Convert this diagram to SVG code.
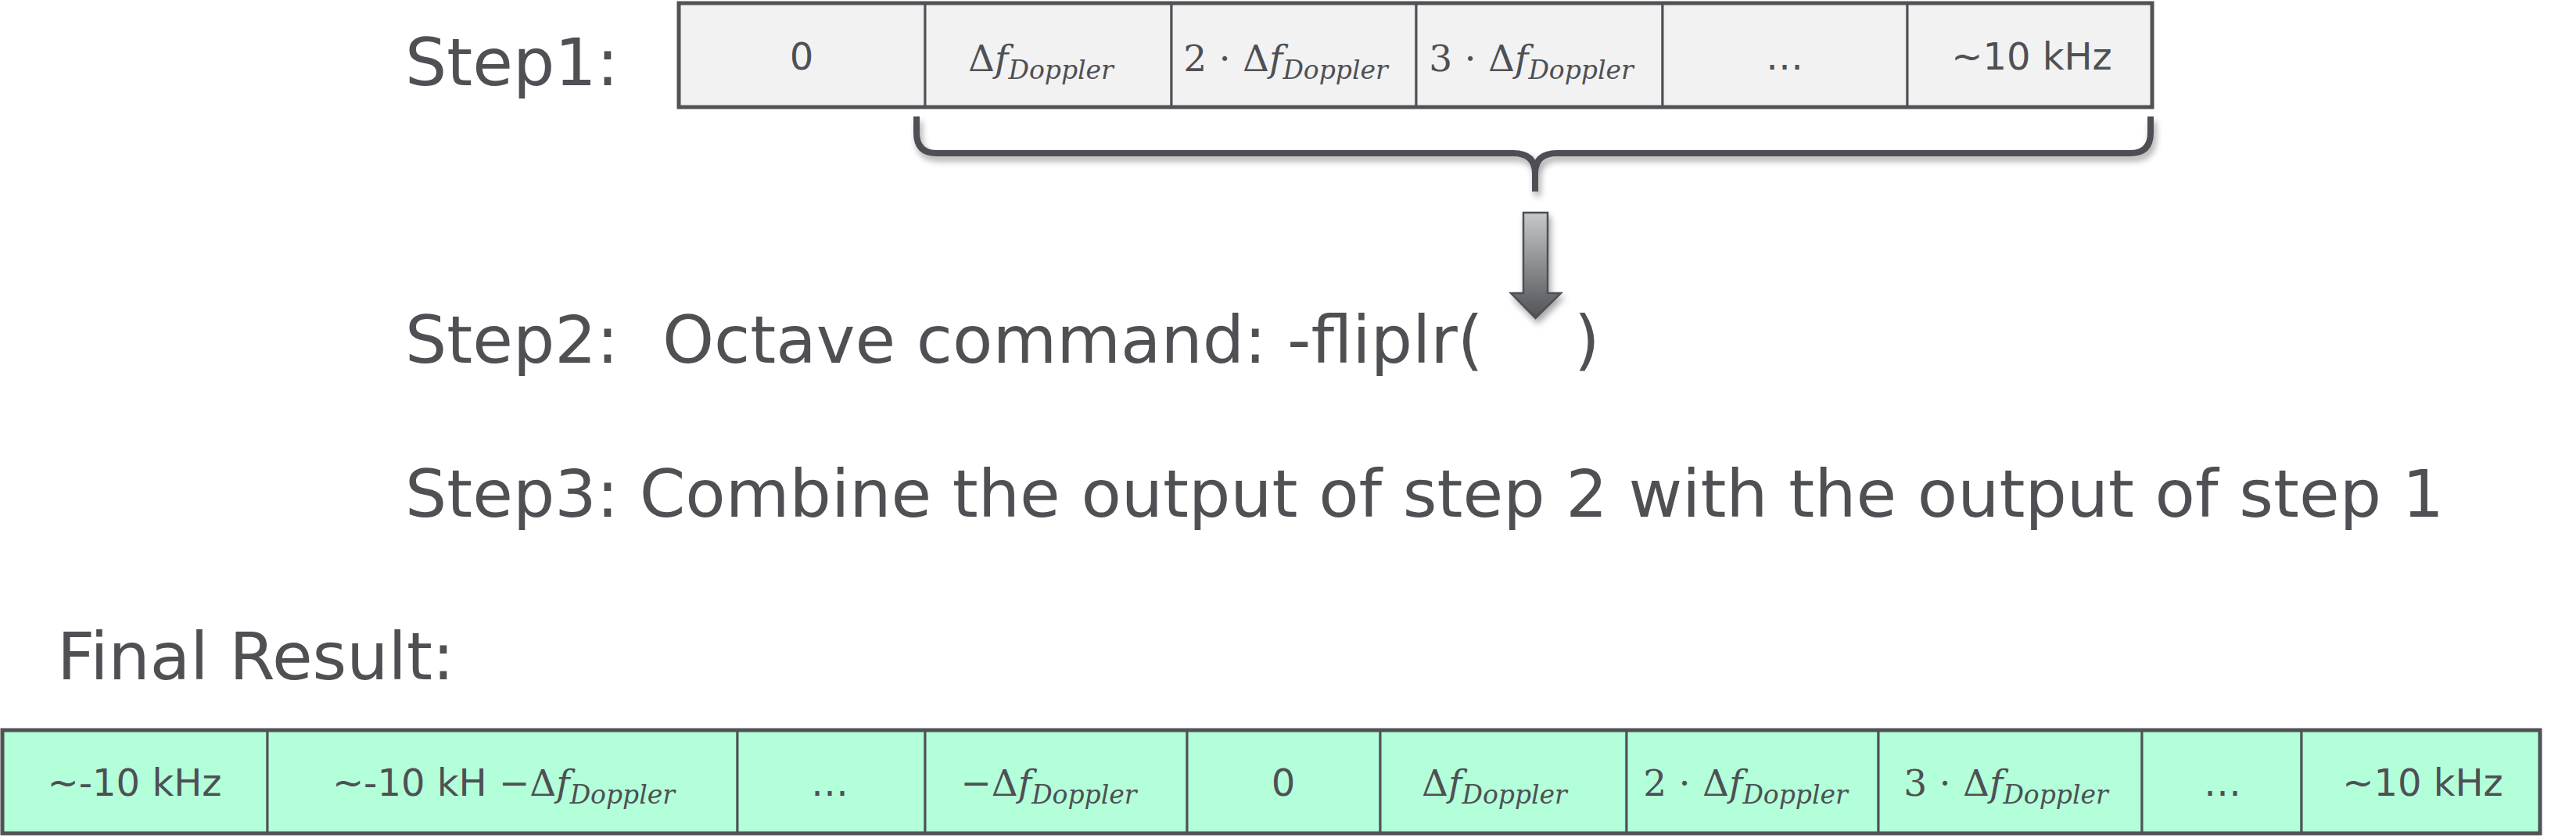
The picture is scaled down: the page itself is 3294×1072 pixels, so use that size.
<svg xmlns="http://www.w3.org/2000/svg" width="3294" height="1072" viewBox="0 0 3294 1072">
<style>
.lbl{font-family:"DejaVu Sans","Liberation Sans",sans-serif;font-size:84px;fill:#4E5054}
.ct{font-family:"DejaVu Sans","Liberation Sans",sans-serif;font-size:48px;fill:#4E5054;text-anchor:middle}
.m{font-family:"DejaVu Serif","Liberation Serif",serif;font-size:47px}
.mi{font-family:"DejaVu Serif","Liberation Serif",serif;font-size:47px;font-style:italic}
.sub{font-family:"DejaVu Serif","Liberation Serif",serif;font-size:33px;font-style:italic}
.top{fill:#F2F2F2;stroke:#505256;stroke-width:3}
.bot{fill:#B3FFD9;stroke:#505256;stroke-width:3}
.outer{fill:none;stroke:#505256;stroke-width:5}
</style>
<defs>
<filter id="sh" x="-20%" y="-20%" width="140%" height="160%">
<feGaussianBlur in="SourceAlpha" stdDeviation="4"/>
<feOffset dx="3" dy="6" result="b"/>
<feComponentTransfer><feFuncA type="linear" slope="0.35"/></feComponentTransfer>
<feMerge><feMergeNode/><feMergeNode in="SourceGraphic"/></feMerge>
</filter>
<linearGradient id="ag" x1="0" y1="0" x2="0" y2="1">
<stop offset="0" stop-color="#C6C8CA"/>
<stop offset="1" stop-color="#505256"/>
</linearGradient>
</defs>

<g id="labels">
<text class="lbl" x="518" y="109">Step1:</text>
<text class="lbl" x="518" y="464">Step2:</text>
<text class="lbl" x="847" y="464">Octave command: -fliplr(</text>
<text class="lbl" x="2013" y="464">)</text>
<text class="lbl" x="518" y="661">Step3: Combine the output of step 2 with the output of step 1</text>
<text class="lbl" x="73" y="869">Final Result:</text>
</g>

<g id="step1-table">
<rect class="top" x="868" y="4" width="315" height="133"/>
<rect class="top" x="1183" y="4" width="315" height="133"/>
<rect class="top" x="1498" y="4" width="313" height="133"/>
<rect class="top" x="1811" y="4" width="315" height="133"/>
<rect class="top" x="2126" y="4" width="313" height="133"/>
<rect class="top" x="2439" y="4" width="313" height="133"/>
<rect class="outer" x="868" y="4" width="1884" height="133"/>
<text class="ct" x="1025" y="89">0</text>
<text class="ct" x="1331" y="91"><tspan class="m">Δ</tspan><tspan class="mi">f</tspan><tspan class="sub" dy="10">Doppler</tspan></text>
<text class="ct" x="1644" y="91"><tspan class="m">2 ⋅ Δ</tspan><tspan class="mi">f</tspan><tspan class="sub" dy="10">Doppler</tspan></text>
<text class="ct" x="1958" y="91"><tspan class="m">3 ⋅ Δ</tspan><tspan class="mi">f</tspan><tspan class="sub" dy="10">Doppler</tspan></text>
<text class="ct" x="2282" y="89">…</text>
<text class="ct" x="2598" y="89">~10 kHz</text>
</g>

<g id="brace" filter="url(#sh)">
<path d="M1172 149 L1172 170 Q1172 196 1198 196 L1935 196 Q1963 196 1963 222 L1963 245 M2750 149 L2750 170 Q2750 196 2724 196 L1991 196 Q1963 196 1963 222" fill="none" stroke="#4E5054" stroke-width="8"/>
</g>

<g id="connectors">
<path filter="url(#sh)" d="M1948 272 L1979 272 L1979 375 L1996 375 L1963.5 407 L1932 375 L1948 375 Z" fill="url(#ag)" stroke="#4E5054" stroke-width="2.5" stroke-linejoin="miter"/>
</g>

<g id="final-table">
<rect class="bot" x="3" y="934" width="339" height="132"/>
<rect class="bot" x="342" y="934" width="601" height="132"/>
<rect class="bot" x="943" y="934" width="240" height="132"/>
<rect class="bot" x="1183" y="934" width="335" height="132"/>
<rect class="bot" x="1518" y="934" width="247" height="132"/>
<rect class="bot" x="1765" y="934" width="315" height="132"/>
<rect class="bot" x="2080" y="934" width="322" height="132"/>
<rect class="bot" x="2402" y="934" width="337" height="132"/>
<rect class="bot" x="2739" y="934" width="204" height="132"/>
<rect class="bot" x="2943" y="934" width="305" height="132"/>
<rect class="outer" x="3" y="934" width="3245" height="132"/>
<text class="ct" x="172" y="1018">~-10 kHz</text>
<text class="ct" x="644" y="1018">~-10 kH <tspan class="m">−Δ</tspan><tspan class="mi">f</tspan><tspan class="sub" dy="10">Doppler</tspan></text>
<text class="ct" x="1061" y="1018">…</text>
<text class="ct" x="1341" y="1018"><tspan class="m">−Δ</tspan><tspan class="mi">f</tspan><tspan class="sub" dy="10">Doppler</tspan></text>
<text class="ct" x="1641" y="1018">0</text>
<text class="ct" x="1911" y="1018"><tspan class="m">Δ</tspan><tspan class="mi">f</tspan><tspan class="sub" dy="10">Doppler</tspan></text>
<text class="ct" x="2232" y="1018"><tspan class="m">2 ⋅ Δ</tspan><tspan class="mi">f</tspan><tspan class="sub" dy="10">Doppler</tspan></text>
<text class="ct" x="2565" y="1018"><tspan class="m">3 ⋅ Δ</tspan><tspan class="mi">f</tspan><tspan class="sub" dy="10">Doppler</tspan></text>
<text class="ct" x="2842" y="1018">…</text>
<text class="ct" x="3098" y="1018">~10 kHz</text>
</g>
</svg>
